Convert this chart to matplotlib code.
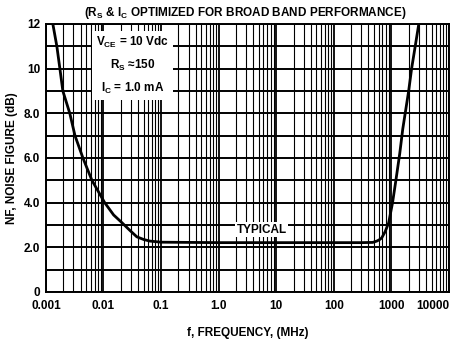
import numpy as np
import matplotlib.pyplot as plt
from matplotlib.ticker import FixedLocator, NullFormatter

plt.rcParams['font.family'] = ['Liberation Sans', 'DejaVu Sans']

# noise figure vs frequency, typical curve
freq_mhz = [0.00132, 0.00155, 0.00175, 0.00197, 0.0026, 0.0032, 0.0044, 0.0063,
            0.0105, 0.015, 0.021, 0.029, 0.038, 0.05, 0.064, 0.1, 1.0, 10, 100,
            300, 475, 560, 620, 680, 780, 900, 1050, 1200, 1400, 1580, 2000, 2250, 3000]
nf_db = [12, 11, 10, 9, 8, 7, 6, 5,
         4.0, 3.45, 3.1, 2.75, 2.47, 2.35, 2.28, 2.23, 2.21, 2.21, 2.21,
         2.21, 2.22, 2.28, 2.34, 2.42, 2.7, 3.1, 4.0, 5.0, 6.2, 7.3, 9.0, 10.0, 12.0]

xtick_vals = [0.001, 0.01, 0.1, 1, 10, 100, 1000, 10000]
xtick_labels = ['0.001', '0.01', '0.1', '1.0', '10', '100', '1000', '10000']
ytick_vals = [0, 2, 4, 6, 8, 10, 12]
ytick_labels = ['0', '2.0', '4.0', '6.0', '8.0', '10', '12']

fig = plt.figure(figsize=(4.59, 3.41), dpi=100)
ax = fig.add_axes([0.100, 0.1437, 0.878, 0.786])

ax.set_xscale('log')
ax.set_xlim(0.001, 10000)
ax.set_ylim(0, 12)

# log-paper grid
minor_x = [m * 10.0 ** e for e in range(-3, 4) for m in range(2, 10)]
ax.xaxis.set_major_locator(FixedLocator(xtick_vals))
ax.xaxis.set_minor_locator(FixedLocator(minor_x))
ax.xaxis.set_minor_formatter(NullFormatter())
ax.set_xticks(xtick_vals)
ax.set_xticklabels(xtick_labels)
ax.yaxis.set_major_locator(FixedLocator(ytick_vals))
ax.yaxis.set_minor_locator(FixedLocator(range(13)))
ax.set_yticklabels(ytick_labels)

ax.grid(True, which='major', axis='x', color='black', lw=1.3)
ax.grid(True, which='minor', axis='x', color='black', lw=0.8)
ax.grid(True, which='both', axis='y', color='black', lw=1.4)
ax.tick_params(which='both', length=0, labelsize=8.5)
ax.tick_params(axis='x', pad=6)
ax.tick_params(axis='y', pad=4)
for lbl in ax.get_xticklabels() + ax.get_yticklabels():
    lbl.set_fontweight('bold')
# last label pulled inward so it stays on the page
ax.get_xticklabels()[-1].set_horizontalalignment('right')
for sp in ax.spines.values():
    sp.set_linewidth(1.4)

ax.plot(freq_mhz, nf_db, color='black', lw=2.0, zorder=5)

ax.text(0.032, 10.15, '$\\mathregular{V_{CE}}$ = 10 Vdc\n$\\mathregular{R_S}$ \u2248150\n$\\mathregular{I_C}$ = 1.0 mA',
        fontsize=8.5, fontweight='bold', ha='center', va='center', multialignment='center',
        linespacing=1.7, zorder=6,
        bbox=dict(facecolor='white', edgecolor='none', pad=3))
ax.text(5.6, 2.78, 'TYPICAL', fontsize=8.5, fontweight='bold', ha='center', va='center', zorder=6,
        bbox=dict(facecolor='white', edgecolor='none', pad=1.0))

fig.text(0.534, 0.962, '($\\mathregular{R_S}$ & $\\mathregular{I_C}$ OPTIMIZED FOR BROAD BAND PERFORMANCE)',
         fontsize=8.5, fontweight='bold', ha='center', va='center')
ax.set_xlabel('f, FREQUENCY, (MHz)', fontsize=8.5, fontweight='bold')
ax.xaxis.set_label_coords(0.5, -0.13)
ax.set_ylabel('NF, NOISE FIGURE (dB)', fontsize=8.5, fontweight='bold')
ax.yaxis.set_label_coords(-0.07, 0.5)

fig.savefig('out.png', dpi=100, facecolor='white')
